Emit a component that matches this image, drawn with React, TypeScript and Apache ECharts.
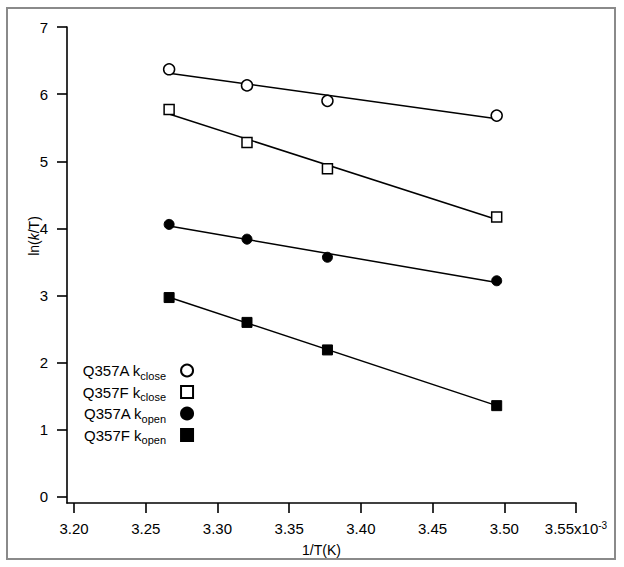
import React, { useEffect, useRef } from "react";
import * as echarts from "echarts";

// 1/T values (units of 1e-3 K^-1)
const invT = [3.2663, 3.3206, 3.3767, 3.4947];
const q357aClose = [6.37, 6.13, 5.9, 5.68];
const q357fClose = [5.77, 5.28, 4.89, 4.17];
const q357aOpen = [4.06, 3.84, 3.57, 3.22];
const q357fOpen = [2.97, 2.6, 2.19, 1.36];

const xTicks = [3.2, 3.25, 3.3, 3.35, 3.4, 3.45, 3.5, 3.55];
const yTicks = [0, 1, 2, 3, 4, 5, 6, 7];

const seriesNames = ["Q357A kclose", "Q357F kclose", "Q357A kopen", "Q357F kopen"];
const legendLabels: Record<string, string> = {
  "Q357A kclose": "{n|Q357A k}{s|close}",
  "Q357F kclose": "{n|Q357F k}{s|close}",
  "Q357A kopen": "{n|Q357A k}{s|open}",
  "Q357F kopen": "{n|Q357F k}{s|open}",
};

const FONT = "'Liberation Sans', Arial, Helvetica, sans-serif";

function fitLine(xs: number[], ys: number[]): number[][] {
  const n = xs.length;
  const mx = xs.reduce((a, b) => a + b, 0) / n;
  const my = ys.reduce((a, b) => a + b, 0) / n;
  let sxy = 0;
  let sxx = 0;
  for (let i = 0; i < n; i++) {
    sxy += (xs[i] - mx) * (ys[i] - my);
    sxx += (xs[i] - mx) * (xs[i] - mx);
  }
  const b = sxy / sxx;
  const a = my - b * mx;
  const x0 = Math.min(...xs);
  const x1 = Math.max(...xs);
  return [
    [x0, a + b * x0],
    [x1, a + b * x1],
  ];
}

export default function App() {
  const ref = useRef<HTMLDivElement>(null);

  useEffect(() => {
    if (!ref.current) return;
    const chart = echarts.init(ref.current, undefined, { renderer: "svg" });
    const allY = [q357aClose, q357fClose, q357aOpen, q357fOpen];
    const symbols = ["circle", "rect", "circle", "rect"];
    const sizes = [11, 10, 10, 10];
    const filled = [false, false, true, true];

    const scatterSeries = allY.map((ys, i) => ({
      name: seriesNames[i],
      type: "scatter",
      symbol: symbols[i],
      symbolSize: sizes[i],
      z: 5,
      itemStyle: filled[i]
        ? { color: "#000", borderColor: "#000", borderWidth: 1, opacity: 1 }
        : { color: "#fff", borderColor: "#000", borderWidth: 1.5, opacity: 1 },
      data: ys.map((y, j) => [invT[j], y]),
    }));

    const lineSeries = allY.map((ys, i) => ({
      name: "fit " + i,
      type: "line",
      symbol: "none",
      z: 3,
      silent: true,
      lineStyle: { color: "#000", width: 1.5 },
      data: fitLine(invT, ys),
    }));

    chart.setOption({
      animation: false,
      backgroundColor: "#fff",
      grid: { left: 67, top: 27, right: 48, bottom: 64, containLabel: false },
      xAxis: {
        type: "value",
        min: 3.1951,
        max: 3.55,
        name: "1/T(K)",
        nameLocation: "middle",
        nameGap: 40,
        nameTextStyle: { fontSize: 14, color: "#000", fontFamily: FONT },
        axisLine: { show: true, onZero: false, lineStyle: { color: "#000", width: 1.6 } },
        axisTick: { show: true, length: 10, customValues: xTicks, lineStyle: { color: "#000", width: 1.6 } },
        axisLabel: {
          customValues: xTicks,
          margin: 17,
          fontSize: 15,
          color: "#000",
          fontFamily: FONT,
          formatter: (v: number) =>
            Math.abs(v - 3.55) < 1e-6 ? "{a|3.55x10}{b|-3}" : "{a|" + v.toFixed(2) + "}",
          rich: {
            a: { fontSize: 15, fontFamily: FONT, color: "#000", lineHeight: 17 },
            b: { fontSize: 10, fontFamily: FONT, color: "#000", verticalAlign: "top", lineHeight: 10, padding: [0, 0, 6, 0] },
          },
        },
        splitLine: { show: false },
      },
      yAxis: {
        type: "value",
        min: -0.09,
        max: 7,
        axisLine: { show: true, onZero: false, lineStyle: { color: "#000", width: 1.6 } },
        axisTick: { show: true, length: 10, customValues: yTicks, lineStyle: { color: "#000", width: 1.6 } },
        axisLabel: {
          customValues: yTicks,
          margin: 19,
          fontSize: 15,
          color: "#000",
          fontFamily: FONT,
        },
        splitLine: { show: false },
      },
      legend: {
        orient: "vertical",
        left: 82,
        top: 363,
        padding: 0,
        align: "right",
        itemWidth: 12,
        itemHeight: 12,
        itemGap: 3.5,
        data: seriesNames,
        formatter: (name: string) => legendLabels[name],
        textStyle: {
          color: "#000",
          fontFamily: FONT,
          fontSize: 15,
          rich: {
            n: { fontSize: 15, fontFamily: FONT, color: "#000", lineHeight: 21 },
            s: {
              fontSize: 11,
              fontFamily: FONT,
              color: "#000",
              lineHeight: 21,
              verticalAlign: "bottom",
              padding: [0, 10, 0, 0],
            },
          },
        },
      },
      graphic: [
        {
          type: "rect",
          shape: { x: 7, y: 8, width: 608, height: 551 },
          style: { fill: "none", stroke: "#8a8a8a", lineWidth: 2 },
          silent: true,
          z: -1,
        },
        {
          type: "text",
          x: 34,
          y: 236,
          rotation: Math.PI / 2,
          silent: true,
          style: {
            text: "{a|ln(}{b|k}{a|/T)}",
            align: "center",
            verticalAlign: "middle",
            rich: {
              a: { fontSize: 14, fontFamily: FONT, fill: "#000" },
              b: { fontSize: 14, fontFamily: FONT, fill: "#000", fontStyle: "italic" },
            },
          },
        },
      ],
      series: [...lineSeries, ...scatterSeries],
    });
    return () => chart.dispose();
  }, []);

  return (
    <div
      ref={ref}
      style={{ position: "absolute", left: 0, top: 0, width: 624, height: 567 }}
    />
  );
}
